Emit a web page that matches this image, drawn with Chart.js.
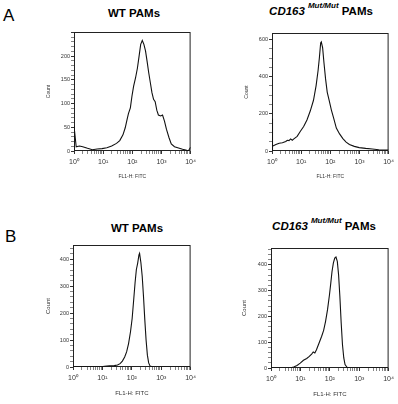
<!DOCTYPE html>
<html lang="en">
<head>
<meta charset="UTF-8">
<title>CD163 PAMs FITC histograms</title>
<script src="https://cdn.jsdelivr.net/npm/chart.js"></script>
<style>
  body { margin: 0; width: 398px; height: 404px; background: #fff; position: relative; overflow: hidden;
         font-family: "Liberation Sans", Arial, sans-serif; color: #000; }
  canvas { position: absolute; }
  .lbl { position: absolute; font-size: 17px; line-height: 17px; }
  .ttl { position: absolute; width: 120px; font-weight: bold; font-size: 11.5px; line-height: 12px;
         text-align: center; white-space: nowrap; }
  .ttl sup { font-size: 8px; line-height: 0; vertical-align: 7px; margin-left: 3px; }
</style>
</head>
<body>
<div class="lbl" style="left:3px;top:7px">A</div>
<div class="lbl" style="left:5px;top:228px">B</div>
<div class="ttl" style="left:74px;top:7px">WT PAMs</div>
<div class="ttl" style="left:261px;top:5px"><i>CD163</i><sup><i>Mut/Mut</i></sup> PAMs</div>
<div class="ttl" style="left:77px;top:222px">WT PAMs</div>
<div class="ttl" style="left:264px;top:220px"><i>CD163</i><sup><i>Mut/Mut</i></sup> PAMs</div>

<script>
  // x axis (FL1-H: FITC, log) decades and their labels
  const decades = [1, 10, 100, 1000, 10000];
  const decadeLabels = ['10\u2070', '10\u00b9', '10\u00b2', '10\u00b3', '10\u2074'];

  // A - WT PAMs
  const wtA_x = [1, 1, 1.19, 1.54, 1.99, 2.91, 4.27, 6.25, 9.15, 13.4, 19.6, 28.7, 37.1, 47.8, 57.2, 66.6, 73.7, 85.8, 97.5, 111,
                 129, 150, 171, 194, 220, 250, 284, 322, 366, 416, 472, 536, 609, 692, 785, 938, 1090, 1270, 1480, 1820,
                 2170, 2800, 3610, 5300, 6820, 8370, 10000];
  const wtA_y = [0, 53, 9, 10.5, 9, 5.6, 2.8, 4.2, 5, 7, 10.5, 16, 22, 34, 49, 67, 79, 91, 116, 137,
                 154, 175, 200, 225, 233, 225, 211, 189, 165, 144, 123, 109, 104, 86, 76, 74, 76, 63, 46, 28,
                 15, 9, 7, 3.5, 2, 0, 8];

  // A - CD163 Mut/Mut PAMs
  const mutA_x = [1, 1, 1.08, 1.36, 1.76, 2.28, 2.96, 3.36, 3.83, 4.35, 4.95, 5.63, 7.29, 9.43, 12.2, 15.8, 20.5, 26.5, 32.6, 38,
                  42.2, 46.7, 49.2, 54.6, 60.5, 68.8, 78.3, 91.4, 109, 131, 161, 208, 270, 349, 452, 666, 981, 1640, 2750, 4610,
                  7730, 10000];
  const mutA_y = [0, 175, 26, 35, 42, 44, 51, 58, 56, 65, 58, 65, 79, 106, 132, 167, 215, 273, 352, 432,
                  502, 581, 587, 555, 476, 388, 317, 273, 220, 176, 123, 92, 67, 48, 35, 25, 18, 14, 11, 7,
                  5, 5];

  // B - WT PAMs
  const wtB_x = [1, 3.31, 9.15, 11.8, 17.3, 25.3, 32.6, 40, 47.8, 57.2, 66.6, 77.6, 90.3, 103, 116, 129, 143, 158, 175, 184,
                 204, 226, 250, 277, 306, 339, 375, 416, 536, 1910, 10000];
  const wtB_y = [1, 1, 1, 2.5, 4, 5, 7.5, 12.5, 22, 37, 56, 87, 131, 181, 250, 312, 362, 385, 416, 422,
                 387, 337, 262, 175, 100, 44, 15, 4, 0, 0, 0];

  // B - CD163 Mut/Mut PAMs
  const mutB_x = [1, 3.57, 4.6, 5.94, 7.66, 9.87, 12.7, 16.4, 20.1, 24.1, 27.3, 31, 35.2, 43.2, 52.9, 61.7, 71.8, 83.7, 97.5, 108,
                  119, 132, 147, 162, 180, 199, 220, 244, 270, 299, 330, 385, 510, 10000];
  const mutB_y = [0, 0, 1, 4, 10, 19, 30, 37, 45, 54, 62, 58, 71, 97, 123, 146, 181, 226, 284, 329,
                  374, 406, 426, 430, 413, 361, 277, 174, 90, 39, 13, 3, 0, 0];

  Chart.defaults.font.family = '"Liberation Sans", Arial, sans-serif';

  // frame around the plot area
  const boxPlugin = {
    id: 'box',
    beforeDatasetsDraw(chart) {
      const a = chart.chartArea;
      const ctx = chart.ctx;
      ctx.save();
      ctx.strokeStyle = '#222';
      ctx.lineWidth = 1;
      ctx.strokeRect(a.left + 0.5, a.top + 0.5, a.right - a.left - 1, a.bottom - a.top - 1);
      ctx.restore();
    }
  };

  // layout of each panel: canvas [x, y, w, h], plot box [left, top, right, bottom]
  const panels = [
    { canvas: [28, 26, 172, 160], box: [74, 32, 195, 151], yTitleX: 49, xTitleY: 177, titleSize: 5,
      yMax: 251, yStep: 10, yLabelEvery: 50, yLabelMax: 200, xs: wtA_x, ys: wtA_y },
    { canvas: [226, 26, 172, 160], box: [272, 33, 392, 151], yTitleX: 247, xTitleY: 177, titleSize: 5,
      yMax: 635, yStep: 50, yLabelEvery: 200, yLabelMax: 600, xs: mutA_x, ys: mutA_y },
    { canvas: [28, 238, 172, 164], box: [73, 245, 196, 367], yTitleX: 48, xTitleY: 393, titleSize: 6,
      yMax: 453, yStep: 20, yLabelEvery: 100, yLabelMax: 400, xs: wtB_x, ys: wtB_y },
    { canvas: [226, 238, 172, 164], box: [271, 248, 392, 368], yTitleX: 244, xTitleY: 394, titleSize: 6,
      yMax: 465, yStep: 20, yLabelEvery: 100, yLabelMax: 400, xs: mutB_x, ys: mutB_y }
  ];

  function makeChart(p) {
    const [cx, cy, cw, ch] = p.canvas;
    const [bl, bt, br, bb] = p.box;
    const lh = p.titleSize * 1.2;
    const yLeft = p.yTitleX - lh / 2;
    const xBottom = p.xTitleY + lh / 2;

    const cv = document.createElement('canvas');
    cv.width = cw;
    cv.height = ch;
    cv.style.left = cx + 'px';
    cv.style.top = cy + 'px';
    document.body.appendChild(cv);

    return new Chart(cv, {
      type: 'scatter',
      data: {
        datasets: [{
          data: p.xs.map((x, i) => ({ x: x, y: p.ys[i] })),
          showLine: true,
          pointRadius: 0,
          borderColor: '#111',
          borderWidth: 1.1,
          tension: 0
        }]
      },
      options: {
        responsive: false,
        animation: false,
        layout: {
          autoPadding: false,
          padding: { left: yLeft - cx, top: bt - cy, right: cx + cw - br, bottom: cy + ch - xBottom }
        },
        plugins: { legend: { display: false }, tooltip: { enabled: false } },
        scales: {
          x: {
            type: 'logarithmic',
            min: 1,
            max: 10000,
            afterBuildTicks(scale) {
              const t = [];
              for (let d = 1; d < 10000; d *= 10) {
                for (let m = 1; m < 10; m++) t.push({ value: m * d });
              }
              t.push({ value: 10000 });
              scale.ticks = t;
            },
            afterFit(scale) { scale.height = xBottom - bb; },
            ticks: {
              autoSkip: false,
              maxRotation: 0,
              padding: 4,
              color: '#333',
              font: { size: 7 },
              callback: (v) => {
                const i = decades.indexOf(v);
                return i >= 0 ? decadeLabels[i] : '';
              }
            },
            grid: {
              drawOnChartArea: false, tickLength: 3, color: '#333',
              lineWidth: (c) => (c.tick && decades.indexOf(c.tick.value) >= 0 ? 1 : 0.6)
            },
            border: { display: false },
            title: { display: true, text: 'FL1-H: FITC', color: '#333', font: { size: p.titleSize }, padding: 0 }
          },
          y: {
            min: 0,
            max: p.yMax,
            afterFit(scale) { scale.width = bl - yLeft; },
            ticks: {
              stepSize: p.yStep,
              includeBounds: false,
              autoSkip: false,
              padding: 1,
              color: '#333',
              font: { size: 5.5 },
              callback: (v) => (v % p.yLabelEvery === 0 && v <= p.yLabelMax ? String(v) : '')
            },
            grid: {
              drawOnChartArea: false, tickLength: 3, color: '#333',
              lineWidth: (c) => (c.tick && c.tick.value % p.yLabelEvery === 0 ? 1 : 0.6)
            },
            border: { display: false },
            title: { display: true, text: 'Count', color: '#333', font: { size: p.titleSize }, padding: 0 }
          }
        }
      },
      plugins: [boxPlugin]
    });
  }

  panels.forEach(makeChart);
</script>
</body>
</html>
